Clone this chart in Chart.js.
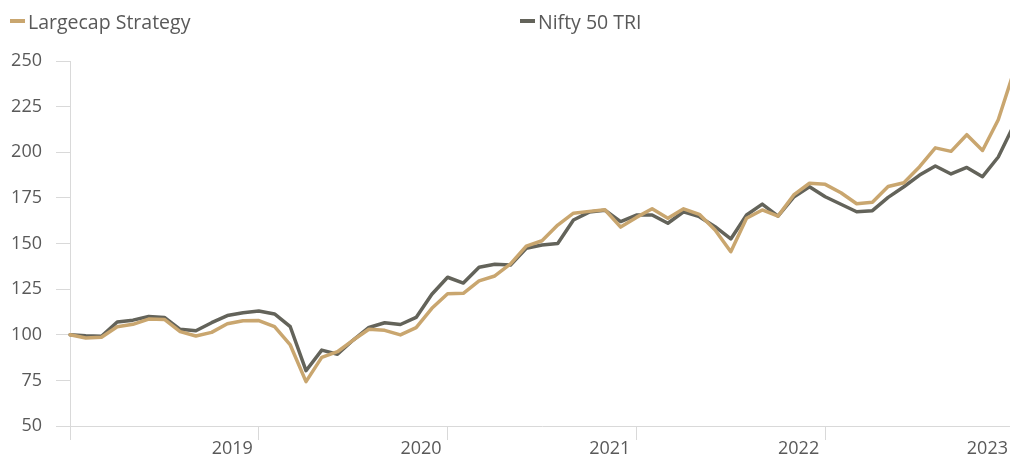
<!DOCTYPE html>
<html>
<head>
<meta charset="utf-8">
<script src="https://cdn.jsdelivr.net/npm/chart.js@4/dist/chart.umd.min.js"></script>
<style>
  html, body { margin: 0; padding: 0; background: #fff; overflow: hidden; }
  #wrap { position: relative; width: 1014px; height: 456px; }
  #legend { position: absolute; top: 8px; left: 0; height: 26px; width: 1010px; }
  .item { position: absolute; top: 0; height: 26px; display: flex; align-items: center;
          font: 19.5px "Open Sans", sans-serif; color: #595959; white-space: nowrap; }
  .swatch { display: inline-block; width: 15px; height: 4px; margin-right: 3px; }
</style>
</head>
<body>
<div id="wrap">
  <canvas id="chart"></canvas>
  <div id="legend"></div>
</div>
<script>
// Monthly points, Jan 2018 .. Jan 2023
const MONTHS = [
  "2018-01","2018-02","2018-03","2018-04","2018-05","2018-06","2018-07","2018-08","2018-09","2018-10","2018-11","2018-12",
  "2019-01","2019-02","2019-03","2019-04","2019-05","2019-06","2019-07","2019-08","2019-09","2019-10","2019-11","2019-12",
  "2020-01","2020-02","2020-03","2020-04","2020-05","2020-06","2020-07","2020-08","2020-09","2020-10","2020-11","2020-12",
  "2021-01","2021-02","2021-03","2021-04","2021-05","2021-06","2021-07","2021-08","2021-09","2021-10","2021-11","2021-12",
  "2022-01","2022-02","2022-03","2022-04","2022-05","2022-06","2022-07","2022-08","2022-09","2022-10","2022-11","2022-12",
  "2023-01"
];

const LARGECAP = [
  100, 98.2, 98.6, 104.4, 105.7, 108.6, 108.4, 101.7, 99.3, 101.3, 106.0, 107.7,
  107.8, 104.4, 94.4, 74.3, 87.6, 90.7, 97.1, 103.0, 102.4, 99.9, 103.9, 114.5,
  122.5, 122.7, 129.5, 132.2, 138.8, 148.6, 151.5, 160.1, 166.6, 167.6, 168.5, 159.0,
  164.3, 169.0, 163.8, 169.0, 166.0, 157.4, 145.5, 163.8, 168.4, 165.0, 176.6, 183.0,
  182.4, 177.8, 171.8, 172.6, 181.2, 183.3, 192.1, 202.4, 200.5, 209.6, 201.0, 217.8,
  244.5
];

const NIFTY = [
  100, 99.5, 99.2, 107.0, 108.0, 110.0, 109.5, 103.0, 102.2, 106.6, 110.5, 112.1,
  113.0, 111.4, 104.4, 80.3, 91.6, 89.3, 97.1, 104.0, 106.6, 105.6, 109.5, 122.2,
  131.5, 128.3, 137.0, 138.6, 138.2, 147.4, 149.2, 150.0, 162.9, 167.2, 168.2, 162.0,
  165.6, 165.6, 161.1, 167.4, 164.7, 159.2, 152.5, 165.6, 171.6, 165.0, 175.4, 181.1,
  175.6, 171.5, 167.4, 168.0, 175.3, 181.1, 187.5, 192.5, 188.1, 191.7, 186.6, 197.4,
  215.0
];

const SERIES_NAMES = ["Largecap Strategy", "Nifty 50 TRI"];
const SERIES_COLORS = ["#C9A66F", "#63635A"];
const LEGEND_LEFT = [10, 520];

const Y_MIN = 50, Y_MAX = 250, Y_STEP = 25;

const AXIS_COLOR = "#D9D9D9";
const TEXT_COLOR = "#595959";
const FONT = { family: "'Open Sans', sans-serif", size: 18 };

// show a year label only on January ticks (skip the very first one)
function isYearStart(index) {
  return MONTHS[index].endsWith("-01");
}

const ctx = document.getElementById("chart").getContext("2d");
new Chart(ctx, {
  type: "line",
  data: {
    labels: MONTHS,
    datasets: [
      { label: SERIES_NAMES[0], data: LARGECAP, borderColor: SERIES_COLORS[0] },
      { label: SERIES_NAMES[1], data: NIFTY, borderColor: SERIES_COLORS[1] }
    ]
  },
  options: {
    responsive: true,
    maintainAspectRatio: false,
    animation: false,
    layout: { padding: { top: 61, left: 0, right: 0, bottom: 0 } },
    elements: {
      point: { radius: 0, hoverRadius: 0 },
      line: { borderWidth: 3.5, tension: 0, fill: false, borderJoinStyle: "round", borderCapStyle: "round" }
    },
    plugins: {
      legend: { display: false },
      tooltip: { enabled: false }
    },
    scales: {
      x: {
        type: "category",
        offset: false,
        afterFit(scale) { scale.height = 30; },
        border: { display: true, color: AXIS_COLOR, width: 1 },
        grid: {
          drawOnChartArea: false,
          drawTicks: true,
          tickLength: 14,
          tickColor: (c) => (isYearStart(c.index) ? AXIS_COLOR : "rgba(0,0,0,0)")
        },
        ticks: {
          autoSkip: false,
          maxRotation: 0,
          align: "end",
          labelOffset: -6,
          padding: -2,
          color: TEXT_COLOR,
          font: FONT,
          callback: (val, idx) => (idx > 0 && isYearStart(idx) ? MONTHS[idx].slice(0, 4) : "")
        }
      },
      y: {
        min: Y_MIN,
        max: Y_MAX,
        afterFit(scale) { scale.width = 70; },
        border: { display: true, color: AXIS_COLOR, width: 1 },
        grid: { drawOnChartArea: false, drawTicks: true, tickLength: 14, tickColor: AXIS_COLOR },
        ticks: { stepSize: Y_STEP, padding: 14, color: TEXT_COLOR, font: FONT }
      }
    }
  }
});

// HTML legend built from the series names/colours
const legendEl = document.getElementById("legend");
SERIES_NAMES.forEach((name, i) => {
  const item = document.createElement("div");
  item.className = "item";
  item.style.left = LEGEND_LEFT[i] + "px";
  const sw = document.createElement("span");
  sw.className = "swatch";
  sw.style.background = SERIES_COLORS[i];
  item.appendChild(sw);
  item.appendChild(document.createTextNode(name));
  legendEl.appendChild(item);
});
</script>
</body>
</html>
